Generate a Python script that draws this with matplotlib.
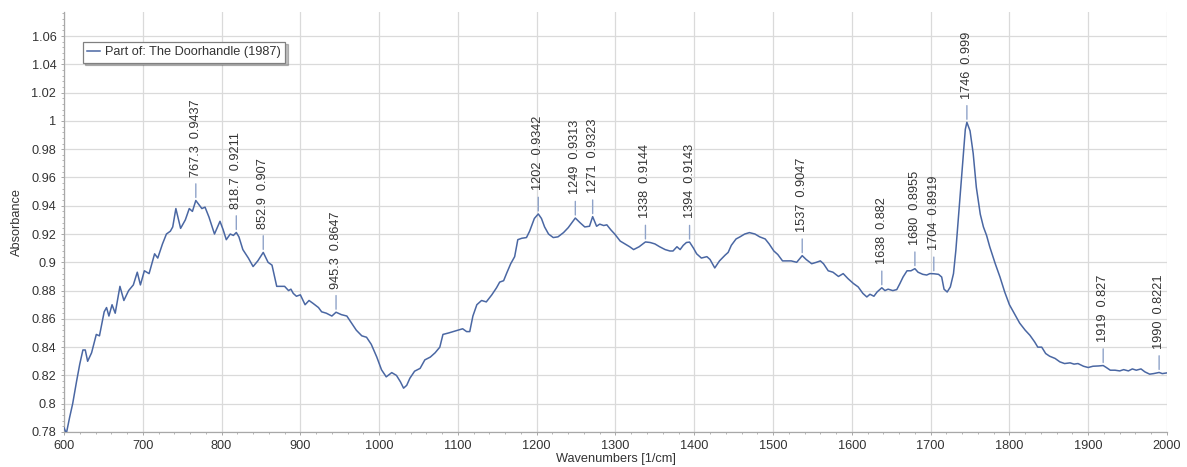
import matplotlib
matplotlib.use("Agg")
import matplotlib.pyplot as plt
from matplotlib.ticker import MultipleLocator

# spectrum read-out: wavenumber [1/cm] and absorbance
wavenumber = [
    600, 603, 607, 611, 616, 620, 624, 627, 630, 635, 641, 645, 651, 654, 657,
    661, 665, 671, 676, 682, 688, 693, 697, 702, 708, 715, 719, 725, 730, 735,
    738, 742, 748, 754, 759, 763, 767.3, 771, 775, 779, 784, 791, 798, 802, 806,
    811, 815, 818.7, 822, 827, 834, 840, 846, 852.9, 859, 864, 870, 876, 880,
    885, 888, 891, 895, 900, 906, 911, 916, 923, 927, 933, 940, 945.3, 952, 959,
    965, 971, 978, 984, 990, 997, 1003, 1009, 1016, 1022, 1027, 1031, 1035,
    1039, 1045, 1052, 1058, 1065, 1071, 1077, 1081, 1088, 1094, 1100, 1106,
    1111, 1115, 1119, 1124, 1130, 1136, 1143, 1149, 1153, 1158, 1162, 1167,
    1172, 1176, 1181, 1187, 1191, 1197, 1202, 1206, 1210, 1215, 1221, 1227,
    1234, 1240, 1246, 1249, 1255, 1261, 1267, 1271, 1276, 1280, 1285, 1289,
    1294, 1299, 1306, 1312, 1318, 1323, 1330, 1338, 1344, 1350, 1356, 1363,
    1369, 1373, 1378, 1382, 1386, 1390, 1394, 1399, 1403, 1409, 1416, 1420,
    1426, 1432, 1439, 1443, 1447, 1453, 1458, 1464, 1470, 1477, 1483, 1490,
    1495, 1501, 1506, 1512, 1517, 1523, 1530, 1537, 1542, 1549, 1555, 1560,
    1564, 1570, 1576, 1583, 1589, 1595, 1602, 1608, 1614, 1619, 1623, 1628,
    1632, 1638, 1642, 1646, 1652, 1657, 1661, 1665, 1670, 1675, 1680, 1684,
    1690, 1695, 1699, 1704, 1710, 1714, 1717, 1721, 1725, 1729, 1732, 1736,
    1741, 1744, 1746, 1750, 1754, 1758, 1763, 1767, 1771, 1775, 1782, 1788,
    1794, 1800, 1807, 1813, 1820, 1826, 1832, 1836, 1841, 1846, 1851, 1858,
    1864, 1870, 1877, 1882, 1887, 1894, 1900, 1906, 1913, 1919, 1923, 1928,
    1934, 1940, 1945, 1951, 1956, 1961, 1967, 1972, 1978, 1983, 1990, 1994,
    2000,
]
absorbance = [
    0.783, 0.779, 0.790, 0.800, 0.816, 0.828, 0.838, 0.838, 0.830, 0.836,
    0.849, 0.848, 0.865, 0.868, 0.862, 0.870, 0.864, 0.883, 0.873, 0.880,
    0.884, 0.893, 0.884, 0.894, 0.892, 0.906, 0.903, 0.913, 0.920, 0.922,
    0.925, 0.938, 0.924, 0.930, 0.938, 0.936, 0.9437, 0.941, 0.938, 0.939,
    0.932, 0.920, 0.929, 0.923, 0.916, 0.920, 0.919, 0.9211, 0.918, 0.909,
    0.903, 0.897, 0.901, 0.907, 0.900, 0.898, 0.883, 0.883, 0.883, 0.880,
    0.881, 0.878, 0.876, 0.877, 0.870, 0.873, 0.871, 0.868, 0.865, 0.864,
    0.862, 0.8647, 0.863, 0.862, 0.857, 0.852, 0.848, 0.847, 0.842, 0.833,
    0.824, 0.819, 0.822, 0.820, 0.8155, 0.811, 0.813, 0.818, 0.823, 0.825,
    0.831, 0.833, 0.836, 0.840, 0.849, 0.850, 0.851, 0.852, 0.853, 0.851,
    0.851, 0.862, 0.870, 0.873, 0.872, 0.877, 0.882, 0.886, 0.887, 0.8925,
    0.899, 0.904, 0.916, 0.917, 0.9175, 0.922, 0.931, 0.9342, 0.931, 0.925,
    0.920, 0.9175, 0.918, 0.921, 0.9245, 0.929, 0.9313, 0.928, 0.925, 0.9255,
    0.9323, 0.9255, 0.927, 0.926, 0.9265, 0.923, 0.920, 0.915, 0.913, 0.911,
    0.909, 0.911, 0.9144, 0.914, 0.913, 0.911, 0.909, 0.908, 0.908, 0.911,
    0.909, 0.912, 0.914, 0.9143, 0.910, 0.906, 0.903, 0.904, 0.902, 0.896,
    0.901, 0.905, 0.907, 0.912, 0.9165, 0.918, 0.920, 0.921, 0.920, 0.918,
    0.9165, 0.913, 0.908, 0.9055, 0.901, 0.901, 0.901, 0.900, 0.9047, 0.902,
    0.899, 0.900, 0.901, 0.899, 0.894, 0.893, 0.890, 0.892, 0.8885, 0.885,
    0.8826, 0.878, 0.8755, 0.8774, 0.876, 0.879, 0.882, 0.880, 0.881, 0.880,
    0.8807, 0.885, 0.8896, 0.894, 0.894, 0.8955, 0.893, 0.8915, 0.891, 0.892,
    0.8919, 0.8915, 0.8896, 0.881, 0.879, 0.8826, 0.892, 0.9085, 0.9367,
    0.972, 0.994, 0.999, 0.993, 0.977, 0.953, 0.934, 0.925, 0.919, 0.911,
    0.899, 0.8896, 0.879, 0.870, 0.863, 0.857, 0.852, 0.8484, 0.8437, 0.840,
    0.840, 0.8355, 0.8336, 0.832, 0.8296, 0.8284, 0.8289, 0.828, 0.8284,
    0.8265, 0.8256, 0.8265, 0.8267, 0.827, 0.8256, 0.8237, 0.8237, 0.8232,
    0.8241, 0.8232, 0.8246, 0.8237, 0.8246, 0.8225, 0.8209, 0.8213, 0.8221,
    0.8213, 0.8218,
]

# picked peaks
peak_x = [767.3, 818.7, 852.9, 945.3, 1202, 1249, 1271, 1338, 1394, 1537,
          1638, 1680, 1704, 1746, 1919, 1990]
peak_y = [0.9437, 0.9211, 0.907, 0.8647, 0.9342, 0.9313, 0.9323, 0.9144,
          0.9143, 0.9047, 0.882, 0.8955, 0.8919, 0.999, 0.827, 0.8221]

series_name = "Part of: The Doorhandle (1987)"
x_ticks = list(range(600, 2001, 100))
y_ticks = [0.78, 0.80, 0.82, 0.84, 0.86, 0.88, 0.90, 0.92, 0.94, 0.96, 0.98,
           1.00, 1.02, 1.04, 1.06]

LINE_COLOR = "#4a67a3"
TICK_COLOR = "#8fa3c9"
TEXT_COLOR = "#333333"
GRID_COLOR = "#dadada"
AXIS_COLOR = "#a8a8a8"

plt.rcParams["font.family"] = ["Liberation Sans", "DejaVu Sans"]
plt.rcParams["font.size"] = 9.2

fig = plt.figure(figsize=(11.87, 4.67), dpi=100)
ax = fig.add_axes([64 / 1187, 35 / 467, 1103 / 1187, 420 / 467])

line, = ax.plot(wavenumber, absorbance, color=LINE_COLOR, lw=1.1,
                label=series_name, zorder=3)

# peak labels with a short marker line above each peak
for px, py in zip(peak_x, peak_y):
    ax.annotate(f"{px:g}  {py:g}", xy=(px, py), xytext=(0, 17),
                textcoords="offset points", rotation=90, ha="center",
                va="bottom", color=TEXT_COLOR, fontsize=9.2,
                arrowprops=dict(arrowstyle="-", color=TICK_COLOR, lw=1.0,
                                relpos=(0.5, 0.0), shrinkA=3, shrinkB=2.2))

ax.set_xlim(600, 2000)
ax.set_ylim(0.78, 1.077)
ax.set_xticks(x_ticks)
ax.set_yticks(y_ticks)
ax.set_yticklabels([f"{v:g}" for v in y_ticks])
ax.xaxis.set_minor_locator(MultipleLocator(20))
ax.yaxis.set_minor_locator(MultipleLocator(0.004))

ax.grid(True, which="major", color=GRID_COLOR, lw=0.9)
ax.set_axisbelow(True)
for side in ("top", "right"):
    ax.spines[side].set_visible(False)
for side in ("left", "bottom"):
    ax.spines[side].set_color(AXIS_COLOR)
    ax.spines[side].set_linewidth(0.9)

ax.tick_params(which="major", length=2.5, width=0.7, color=AXIS_COLOR,
               labelcolor=TEXT_COLOR, pad=3)
ax.tick_params(which="minor", length=1.5, width=0.6, color=AXIS_COLOR)

ax.set_xlabel("Wavenumbers [1/cm]", color=TEXT_COLOR, labelpad=1)
ax.set_ylabel("Absorbance", color=TEXT_COLOR, labelpad=6)

leg = ax.legend(handles=[line], loc="upper left",
                bbox_to_anchor=(0.017, 0.929), borderaxespad=0,
                fancybox=False, edgecolor="#808080", framealpha=1,
                handlelength=1.0, handletextpad=0.4, borderpad=0.35,
                shadow={"ox": 1.5, "oy": -1.5, "alpha": 0.35})
leg.get_frame().set_linewidth(0.9)
for t in leg.get_texts():
    t.set_color(TEXT_COLOR)

fig.savefig("out.png", dpi=100)
